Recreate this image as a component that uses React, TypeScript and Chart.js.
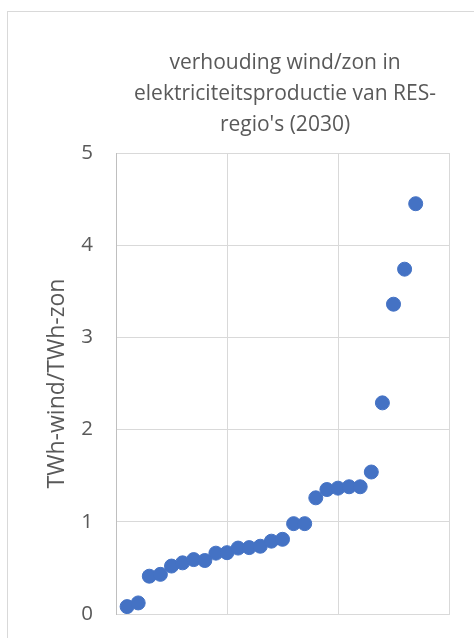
import React, { useEffect, useRef } from "react";
import { Chart, registerables } from "chart.js";

Chart.register(...registerables);

const titleLines = ["verhouding wind/zon in", "elektriciteitsproductie van RES-", "regio's (2030)"];
const yAxisTitle = "TWh-wind/TWh-zon";
const regionIndex = [1, 2, 3, 4, 5, 6, 7, 8, 9, 10, 11, 12, 13, 14, 15, 16, 17, 18, 19, 20, 21, 22, 23, 24, 25, 26, 27];
const ratio = [0.08, 0.12, 0.41, 0.43, 0.52, 0.555, 0.59, 0.58, 0.66, 0.665, 0.715, 0.72, 0.735, 0.79, 0.81, 0.98, 0.98, 1.26, 1.35, 1.365, 1.38, 1.38, 1.54, 2.29, 3.36, 3.74, 4.45];

const FONT = "'Open Sans', sans-serif";
const TEXT = "#595959";
const GRID = "#d9d9d9";
const TITLE_FS = 21;
const TICK_FS = 20.5;
const AXIS_FS = 23;

export default function App() {
  const ref = useRef<HTMLCanvasElement | null>(null);
  useEffect(() => {
    if (!ref.current) return;
    const chart = new Chart(ref.current, {
      type: "scatter",
      data: {
        datasets: [
          {
            data: regionIndex.map((x, i) => ({ x, y: ratio[i] })),
            backgroundColor: "#4472C4",
            borderColor: "#4472C4",
            borderWidth: 1,
            pointRadius: 7,
            pointHoverRadius: 7,
          },
        ],
      },
      options: {
        animation: false,
        responsive: false,
        layout: { padding: { left: 0, right: 0, top: 0, bottom: 36 } },
        plugins: {
          legend: { display: false },
          tooltip: { enabled: false },
          title: {
            display: true,
            text: titleLines,
            color: TEXT,
            font: { family: FONT, size: TITLE_FS, weight: "normal", lineHeight: 31 / TITLE_FS },
            padding: { top: 35.5, bottom: 12.5 },
          },
        },
        scales: {
          x: {
            type: "linear",
            min: 0,
            max: 30,
            ticks: { display: false, stepSize: 10 },
            grid: { color: GRID, drawTicks: false, lineWidth: 1 },
            border: { color: GRID },
          },
          y: {
            min: 0,
            max: 5,
            ticks: {
              stepSize: 1,
              color: TEXT,
              padding: 23,
              font: { family: FONT, size: TICK_FS },
            },
            grid: { color: GRID, drawTicks: false },
            border: { color: "#bfbfbf" },
            title: {
              display: true,
              text: yAxisTitle,
              color: TEXT,
              font: { family: FONT, size: AXIS_FS, lineHeight: 1.2 },
              padding: { top: 35.2, bottom: 10 },
            },
            afterFit: (s: any) => {
              s.width = 108;
            },
          },
          yR: {
            type: "linear",
            position: "right",
            display: true,
            ticks: { display: false },
            grid: { display: false },
            border: { display: false },
            afterFit: (s: any) => {
              s.width = 113;
            },
          },
        },
      },
    });
    return () => chart.destroy();
  }, []);

  return (
    <div style={{ position: "fixed", left: 0, top: 0, right: 0, bottom: 0, overflow: "hidden", background: "#fff" }}>
      <div
        style={{
          position: "absolute",
          left: 7,
          top: 11,
          width: 556,
          height: 640,
          border: "1px solid #d9d9d9",
          boxSizing: "border-box",
        }}
      >
        <canvas ref={ref} width={554} height={638} style={{ display: "block" }} />
      </div>
    </div>
  );
}
